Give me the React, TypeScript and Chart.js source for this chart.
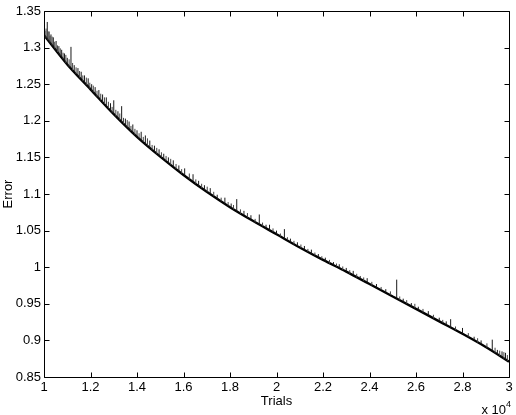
import React, { useEffect, useRef } from "react";
import { Chart, registerables } from "chart.js";

Chart.register(...registerables);

// Axis ticks
const xTicks = [10000, 12000, 14000, 16000, 18000, 20000, 22000, 24000, 26000, 28000, 30000];
const yTicks = [0.85, 0.9, 0.95, 1.0, 1.05, 1.1, 1.15, 1.2, 1.25, 1.3, 1.35];

// Underlying error curve
const baseTrials = [
  10000, 11000, 12000, 13000, 14000, 15000, 16000, 17000, 18000, 19000, 20000,
  21000, 22000, 23000, 24000, 25000, 26000, 27000, 28000, 29000, 30000,
];
const baseError = [
  1.317, 1.277, 1.243, 1.209, 1.178, 1.151, 1.126, 1.103, 1.082, 1.063, 1.045,
  1.027, 1.010, 0.994, 0.977, 0.960, 0.943, 0.926, 0.909, 0.891, 0.871,
];

// Upward error spikes: trial, foot of the spike, peak
const spikeTrials = [
  10040, 10140, 10220, 10300, 10400, 10520, 10640, 10760, 10880, 11000,
  11160, 11300, 11460, 11600, 11740, 11900, 12050, 12200, 12360, 12520,
  12680, 12860, 13000, 13180, 13340, 13500, 13660, 13820, 14000, 14180,
  14360, 14550, 14750, 14950, 15150, 15350, 15560, 15800, 16050, 16410,
  16650, 16900, 17150, 17450, 17780, 18050, 18290, 18600, 18900, 19260,
  19550, 19700, 20000, 20340, 20600, 20900, 21200, 21500, 21800, 22100,
  22450, 22700, 23000, 23300, 23600, 23900, 24300, 24700, 25170, 25450,
  25800, 26100, 26530, 27000, 27300, 27490, 28000, 28500, 28800, 29280,
  29500, 29700, 29850,
];
const spikeBase = [
  1.315, 1.311, 1.308, 1.305, 1.301, 1.296, 1.291, 1.287, 1.282, 1.277,
  1.272, 1.267, 1.261, 1.257, 1.252, 1.246, 1.241, 1.236, 1.231, 1.225,
  1.220, 1.214, 1.209, 1.203, 1.198, 1.193, 1.188, 1.183, 1.178, 1.173,
  1.168, 1.163, 1.158, 1.152, 1.147, 1.142, 1.137, 1.131, 1.125, 1.117,
  1.111, 1.105, 1.100, 1.093, 1.086, 1.081, 1.076, 1.071, 1.065, 1.058,
  1.053, 1.050, 1.045, 1.039, 1.034, 1.029, 1.024, 1.018, 1.013, 1.008,
  1.003, 0.999, 0.994, 0.989, 0.984, 0.979, 0.972, 0.965, 0.957, 0.952,
  0.946, 0.941, 0.934, 0.926, 0.921, 0.917, 0.909, 0.900, 0.895, 0.886,
  0.881, 0.877, 0.874,
];
const spikeTop = [
  1.323, 1.335, 1.322, 1.318, 1.314, 1.309, 1.302, 1.297, 1.292, 1.286,
  1.301, 1.276, 1.272, 1.267, 1.262, 1.258, 1.250, 1.246, 1.242, 1.236,
  1.232, 1.224, 1.228, 1.213, 1.220, 1.203, 1.199, 1.195, 1.187, 1.185,
  1.180, 1.173, 1.166, 1.161, 1.155, 1.150, 1.146, 1.139, 1.135, 1.127,
  1.118, 1.112, 1.108, 1.099, 1.095, 1.087, 1.093, 1.077, 1.071, 1.072,
  1.058, 1.058, 1.050, 1.052, 1.039, 1.034, 1.029, 1.024, 1.018, 1.013,
  1.007, 1.004, 0.999, 0.995, 0.988, 0.985, 0.977, 0.970, 0.983, 0.957,
  0.951, 0.946, 0.940, 0.931, 0.926, 0.929, 0.917, 0.905, 0.900, 0.901,
  0.887, 0.885, 0.883,
];

// Small jitter spikes along the curve: trial, foot, peak
const minorTrials = [
  10090, 10180, 10260, 10350, 10460, 10580, 10700, 10820, 10940, 11080,
  11230, 11380, 11530, 11670, 11820, 11970, 12120, 12280, 12440, 12600,
  12770, 12930, 13090, 13260, 13420, 13580, 13740, 13910, 14090, 14270,
  14450, 14650, 14850, 15050, 15250, 15450, 15680, 15920, 16250, 16530,
  16780, 17020, 17300, 17620, 17920, 18150, 18450, 18750, 19080, 19400,
  19850, 20170, 20470, 20750, 21050, 21350, 21650, 21950, 22280, 22580,
  22850, 23150, 23450, 23750, 24100, 24500, 24900, 25300, 25600, 25950,
  26300, 26750, 27150, 27700, 28250, 28650, 29050, 29400, 29600, 29780,
  29930,
];
const minorBase = [
  1.313, 1.310, 1.307, 1.303, 1.299, 1.294, 1.289, 1.284, 1.279, 1.274,
  1.269, 1.264, 1.259, 1.254, 1.249, 1.244, 1.239, 1.233, 1.228, 1.223,
  1.217, 1.211, 1.206, 1.201, 1.196, 1.191, 1.186, 1.181, 1.176, 1.171,
  1.166, 1.160, 1.155, 1.150, 1.145, 1.140, 1.134, 1.128, 1.120, 1.114,
  1.108, 1.103, 1.097, 1.090, 1.084, 1.079, 1.073, 1.068, 1.061, 1.056,
  1.048, 1.042, 1.037, 1.031, 1.026, 1.021, 1.016, 1.011, 1.005, 1.001,
  0.996, 0.991, 0.986, 0.981, 0.975, 0.969, 0.962, 0.955, 0.950, 0.944,
  0.938, 0.930, 0.924, 0.914, 0.905, 0.897, 0.890, 0.883, 0.879, 0.875,
  0.872,
];
const minorTop = [
  1.326, 1.322, 1.316, 1.315, 1.308, 1.303, 1.299, 1.293, 1.290, 1.284,
  1.279, 1.273, 1.268, 1.262, 1.259, 1.252, 1.248, 1.241, 1.237, 1.232,
  1.226, 1.219, 1.215, 1.210, 1.204, 1.201, 1.193, 1.189, 1.183, 1.178,
  1.176, 1.167, 1.163, 1.157, 1.152, 1.148, 1.141, 1.134, 1.128, 1.120,
  1.114, 1.110, 1.103, 1.095, 1.089, 1.085, 1.079, 1.074, 1.066, 1.061,
  1.053, 1.046, 1.041, 1.036, 1.031, 1.025, 1.020, 1.015, 1.010, 1.005,
  1.001, 0.996, 0.991, 0.986, 0.980, 0.973, 0.967, 0.960, 0.955, 0.950,
  0.943, 0.935, 0.928, 0.919, 0.910, 0.903, 0.896, 0.890, 0.886, 0.884,
  0.880,
];

const FONT = "'Liberation Sans', Arial, Helvetica, sans-serif";

const fmtX = (v: number) => String(parseFloat((v / 10000).toFixed(2)));
const fmtY = (v: number) => String(parseFloat(v.toFixed(2)));

const framePlugin = {
  id: "matlabFrame",
  afterDatasetsDraw(chart: any) {
    const { ctx, chartArea, scales } = chart;
    const { left, right, top, bottom } = chartArea;
    const xs = scales.x;
    const ys = scales.y;
    const L = Math.round(left) + 0.5;
    const R = Math.round(right) + 0.5;
    const T = Math.round(top) + 0.5;
    const B = Math.round(bottom) + 0.5;
    const tl = 5;
    ctx.save();
    ctx.strokeStyle = "#000";
    ctx.lineWidth = 1;
    ctx.beginPath();
    ctx.rect(L, T, R - L, B - T);
    for (const v of xTicks) {
      const p = Math.round(xs.getPixelForValue(v)) + 0.5;
      ctx.moveTo(p, B);
      ctx.lineTo(p, B - tl);
      ctx.moveTo(p, T);
      ctx.lineTo(p, T + tl);
    }
    for (const v of yTicks) {
      const p = Math.round(ys.getPixelForValue(v)) + 0.5;
      ctx.moveTo(L, p);
      ctx.lineTo(L + tl, p);
      ctx.moveTo(R, p);
      ctx.lineTo(R - tl, p);
    }
    ctx.stroke();

    // exponent label "x 10^4"
    ctx.fillStyle = "#000";
    ctx.textBaseline = "alphabetic";
    ctx.textAlign = "right";
    ctx.font = `9px ${FONT}`;
    const supRight = right + 2;
    ctx.fillText("4", supRight, bottom + 30);
    const w4 = ctx.measureText("4").width;
    ctx.font = `13px ${FONT}`;
    ctx.fillText("x 10", supRight - w4, bottom + 37);
    ctx.restore();
  },
};

function toSegments(trials: number[], feet: number[], peaks: number[]) {
  const out: { x: number; y: number | null }[] = [];
  trials.forEach((t, i) => {
    out.push({ x: t, y: feet[i] });
    out.push({ x: t, y: peaks[i] });
    out.push({ x: t, y: null });
  });
  return out;
}

export default function App() {
  const ref = useRef<HTMLCanvasElement | null>(null);

  useEffect(() => {
    const canvas = ref.current;
    if (!canvas) return;

    const curve = baseTrials.map((t, i) => ({ x: t, y: baseError[i] }));

    const chart = new Chart(canvas, {
      type: "line",
      data: {
        datasets: [
          {
            data: toSegments(minorTrials, minorBase, minorTop) as any,
            borderColor: "#444",
            borderWidth: 1,
            pointRadius: 0,
            spanGaps: false,
            tension: 0,
          },
          {
            data: toSegments(spikeTrials, spikeBase, spikeTop) as any,
            borderColor: "#1a1a1a",
            borderWidth: 1,
            pointRadius: 0,
            spanGaps: false,
            tension: 0,
          },
          {
            data: curve,
            borderColor: "#000",
            borderWidth: 2.4,
            pointRadius: 0,
            cubicInterpolationMode: "monotone",
          },
        ],
      },
      options: {
        responsive: false,
        animation: false,
        devicePixelRatio: 1,
        layout: { padding: { left: 0, right: 7, top: 11, bottom: 0 } },
        plugins: {
          legend: { display: false },
          tooltip: { enabled: false },
        },
        scales: {
          x: {
            type: "linear",
            min: 10000,
            max: 30000,
            afterBuildTicks: (s: any) => {
              s.ticks = xTicks.map((v) => ({ value: v }));
            },
            afterFit: (s: any) => {
              s.height = 38;
            },
            grid: { display: false, drawTicks: false },
            border: { display: false },
            ticks: {
              padding: 3,
              color: "#000",
              font: { family: FONT, size: 13 },
              maxRotation: 0,
              autoSkip: false,
              callback: (v: any) => fmtX(Number(v)),
            },
            title: {
              display: true,
              text: "Trials",
              color: "#000",
              font: { family: FONT, size: 13 },
              padding: { top: 0, bottom: 6 },
            },
          },
          y: {
            type: "linear",
            min: 0.85,
            max: 1.35,
            afterBuildTicks: (s: any) => {
              s.ticks = yTicks.map((v) => ({ value: v }));
            },
            afterFit: (s: any) => {
              s.width = 44;
            },
            grid: { display: false, drawTicks: false },
            border: { display: false },
            ticks: {
              padding: 3,
              color: "#000",
              font: { family: FONT, size: 13 },
              autoSkip: false,
              callback: (v: any) => fmtY(Number(v)),
            },
            title: {
              display: true,
              text: "Error",
              color: "#000",
              font: { family: FONT, size: 13 },
              padding: { top: 1, bottom: 0 },
            },
          },
        },
      },
      plugins: [framePlugin],
    });

    return () => chart.destroy();
  }, []);

  return (
    <div style={{ position: "absolute", left: 0, top: 0, width: 516, height: 415, background: "#fff" }}>
      <canvas ref={ref} width={516} height={415} style={{ display: "block" }} />
    </div>
  );
}
